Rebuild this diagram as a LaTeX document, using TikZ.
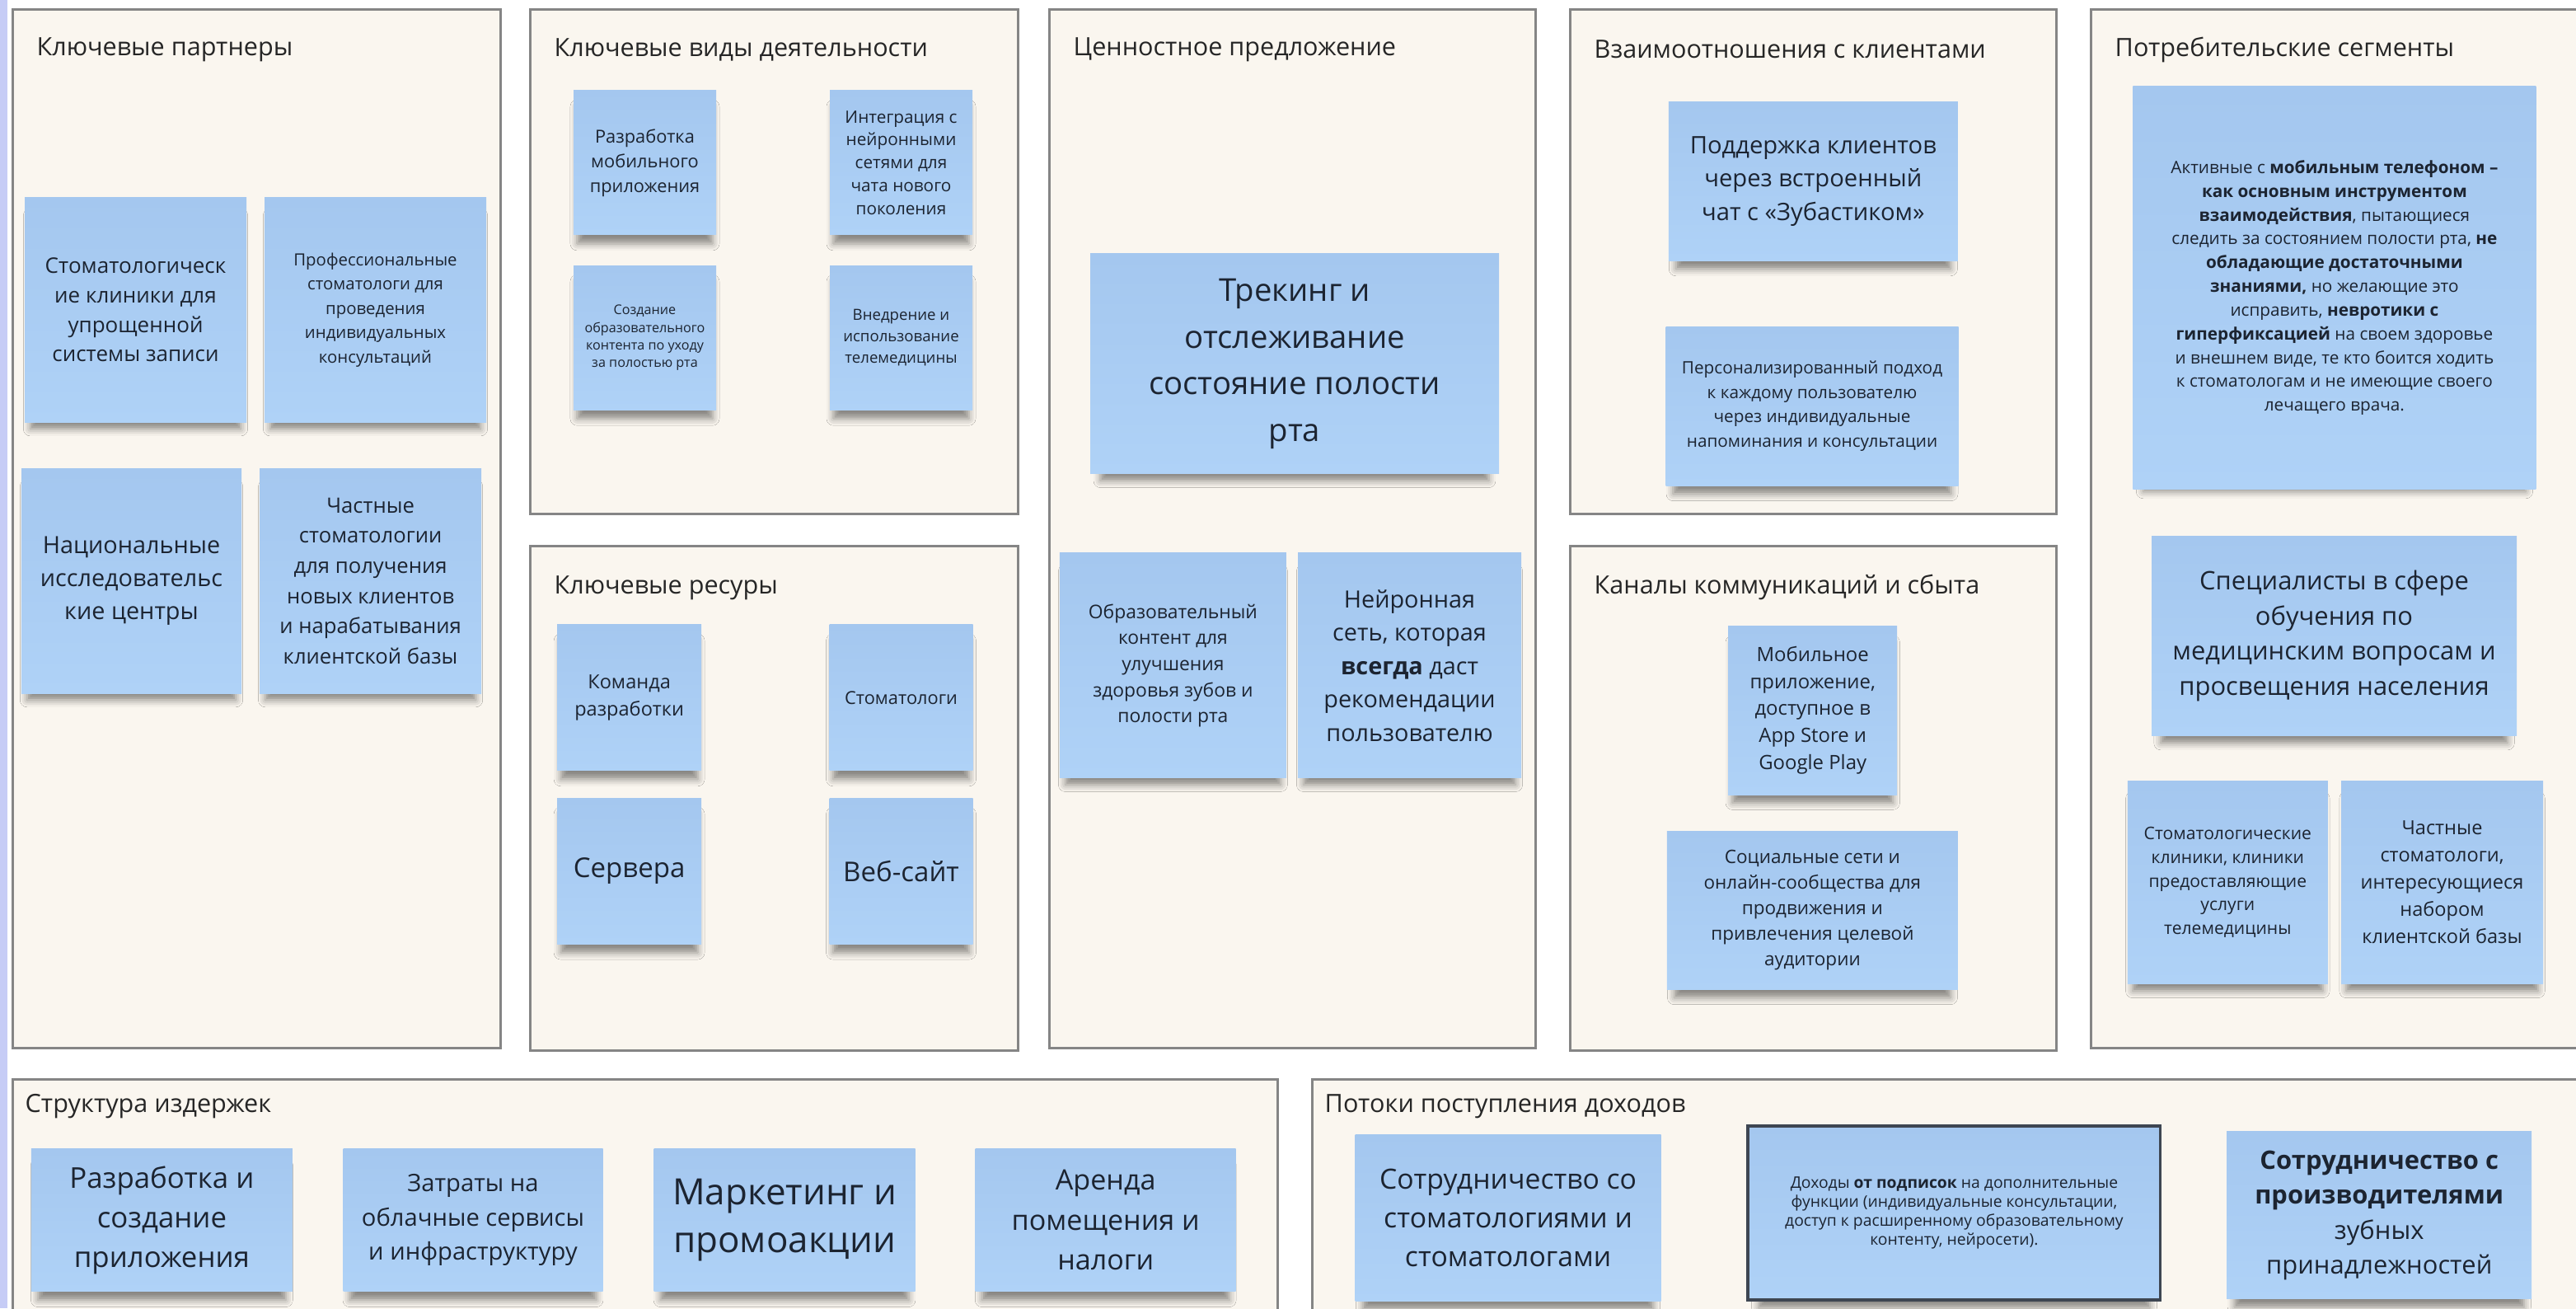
\documentclass[tikz,border=0pt]{standalone}
\usepackage{fontspec}
\setmainfont{Open Sans}
\usetikzlibrary{positioning, shadows.blur}

\definecolor{canvasbg}{HTML}{FAF6EF}
\definecolor{canvasline}{HTML}{858585}
\definecolor{stickytop}{HTML}{A4C7EF}
\definecolor{stickybot}{HTML}{AFD2F7}
\definecolor{inkcol}{HTML}{1C2431}
\definecolor{framecol}{HTML}{3E4652}
\definecolor{edgebar}{HTML}{C6CCF6}

\newcommand{\fsz}[2]{\fontsize{#1}{#2}\selectfont}

\begin{document}
\begin{tikzpicture}[
  panel/.style={
    draw=canvasline,
    line width=0.8pt,
    fill=canvasbg,
    anchor=north west,
    inner sep=0pt
    },
  ptitle/.style={
    anchor=west,
    inner sep=0pt,
    text=black!85,
    font=\fsz{8.7}{10}
    },
  sticky/.style n args={2}{
    top color=stickytop,
    bottom color=stickybot,
    align=center,
    inner sep=1pt,
    text=inkcol,
    minimum width=#1,
    minimum height=#2,
    blur shadow={shadow xshift=0pt, shadow yshift=-4.5pt, shadow scale=0.95, shadow blur radius=2.5pt, shadow opacity=45}
    }
]

\useasboundingbox (0,0) rectangle (31.26,-15.87);
\clip (0,0) rectangle (31.26,-15.87);
\fill[edgebar] (0,0) rectangle (0.09,-15.87);

\node[panel, minimum width=5.92cm, minimum height=12.6cm] (kp) at (0.14,-0.10) {};
\node[panel, minimum width=5.92cm, minimum height=6.12cm] (kd) at (6.42,-0.10) {};
\node[panel, minimum width=5.92cm, minimum height=6.12cm, below=0.36cm of kd.south west, anchor=north west] (kr) {};
\node[panel, minimum width=5.90cm, minimum height=12.6cm] (cp) at (12.72,-0.10) {};
\node[panel, minimum width=5.90cm, minimum height=6.12cm] (vk) at (19.04,-0.10) {};
\node[panel, minimum width=5.90cm, minimum height=6.12cm, below=0.36cm of vk.south west, anchor=north west] (ks) {};
\node[panel, minimum width=6.2cm, minimum height=12.6cm] (ps) at (25.36,-0.10) {};
\node[panel, minimum width=15.35cm, minimum height=3cm] (si) at (0.14,-13.08) {};
\node[panel, minimum width=16cm, minimum height=3cm] (pd) at (15.91,-13.08) {};

\node[ptitle, below right=0.5cm and 0.3cm of kp.north west, anchor=west] (kp-t) {Ключевые партнеры};
\node[ptitle, below right=0.5cm and 0.3cm of kd.north west, anchor=west] (kd-t) {Ключевые виды деятельности};
\node[ptitle, below right=0.52cm and 0.3cm of kr.north west, anchor=west] (kr-t) {Ключевые ресуры};
\node[ptitle, below right=0.5cm and 0.3cm of cp.north west, anchor=west] (cp-t) {Ценностное предложение};
\node[ptitle, below right=0.5cm and 0.3cm of vk.north west, anchor=west] (vk-t) {Взаимоотношения с клиентами};
\node[ptitle, below right=0.52cm and 0.3cm of ks.north west, anchor=west] (ks-t) {Каналы коммуникаций и сбыта};
\node[ptitle, below right=0.5cm and 0.3cm of ps.north west, anchor=west] (ps-t) {Потребительские сегменты};
\node[ptitle, below right=0.34cm and 0.16cm of si.north west, anchor=west] (si-t) {Структура издержек};
\node[ptitle, below right=0.34cm and 0.16cm of pd.north west, anchor=west] (pd-t) {Потоки поступления доходов};

\node[sticky={2.69cm}{2.73cm}, font=\fsz{7.4}{10.2}] (kp1) at (1.645,-3.758)
  {Стоматологическ\\ие клиники для\\упрощенной\\системы записи};
\node[sticky={2.69cm}{2.73cm}, font=\fsz{5.8}{8.4}] (kp2) at (4.555,-3.758)
  {Профессиональные\\стоматологи для\\проведения\\индивидуальных\\консультаций};
\node[sticky={2.67cm}{2.73cm}, font=\fsz{8.2}{11.5}] (kp3) at (1.595,-7.047)
  {Национальные\\исследовательс\\кие центры};
\node[sticky={2.69cm}{2.73cm}, font=\fsz{7.3}{10.4}] (kp4) at (4.496,-7.047)
  {Частные\\стоматологии\\для получения\\новых клиентов\\и нарабатывания\\клиентской базы};

\node[sticky={1.73cm}{1.75cm}, font=\fsz{6.2}{8.5}] (kd1) at (7.825,-1.974)
  {Разработка\\мобильного\\приложения};
\node[sticky={1.73cm}{1.75cm}, font=\fsz{5.9}{7.9}] (kd2) at (10.935,-1.974)
  {Интеграция с\\нейронными\\сетями для\\чата нового\\поколения};
\node[sticky={1.73cm}{1.75cm}, font=\fsz{4.6}{6.0}] (kd3) at (7.825,-4.097)
  {Создание\\образовательного\\контента по уходу\\за полостью рта};
\node[sticky={1.73cm}{1.75cm}, font=\fsz{5.3}{7.5}] (kd4) at (10.935,-4.097)
  {Внедрение и\\использование\\телемедицины};

\node[sticky={1.75cm}{1.77cm}, font=\fsz{6.7}{9.5}] (kr1) at (7.636,-8.463)
  {Команда\\разработки};
\node[sticky={1.74cm}{1.77cm}, font=\fsz{6.2}{8.5}] (kr2) at (10.935,-8.463)
  {Стоматологи};
\node[sticky={1.75cm}{1.77cm}, font=\fsz{9.4}{12.6}] (kr3) at (7.636,-10.566)
  {Сервера};
\node[sticky={1.74cm}{1.77cm}, font=\fsz{9.4}{12.6}] (kr4) at (10.935,-10.566)
  {Веб-сайт};

\node[sticky={4.96cm}{2.67cm}, font=\fsz{10.9}{16.1}] (cp1) at (15.710,-4.414)
  {Трекинг и\\отслеживание\\состояние полости\\рта};
\node[sticky={2.75cm}{2.73cm}, font=\fsz{6.5}{9.0}] (cp2) at (14.234,-8.074)
  {Образовательный\\контент для\\улучшения\\здоровья зубов и\\полости рта};
\node[sticky={2.71cm}{2.73cm}, font=\fsz{8.2}{11.5}] (cp3) at (17.105,-8.074)
  {Нейронная\\сеть, которая\\\textbf{всегда} даст\\рекомендации\\пользователю};

\node[sticky={3.51cm}{1.93cm}, font=\fsz{8.3}{11.5}] (vk1) at (22.003,-2.197)
  {Поддержка клиентов\\через встроенный\\чат с «Зубастиком»};
\node[sticky={3.55cm}{1.93cm}, font=\fsz{5.9}{8.5}] (vk2) at (21.990,-4.926)
  {Персонализированный подход\\к каждому пользователю\\через индивидуальные\\напоминания и консультации};

\node[sticky={2.05cm}{2.05cm}, font=\fsz{6.8}{9.3}] (ks1) at (21.997,-8.616)
  {Мобильное\\приложение,\\доступное в\\App Store и\\Google Play};
\node[sticky={3.53cm}{1.92cm}, font=\fsz{6.4}{8.8}] (ks2) at (21.994,-11.041)
  {Социальные сети и\\онлайн-сообщества для\\продвижения и\\привлечения целевой\\аудитории};

\node[sticky={4.89cm}{4.89cm}, font=\fsz{5.9}{8.2}] (ps1) at (28.329,-3.491)
  {Активные с \textbf{мобильным телефоном –}\\
   \textbf{как основным инструментом}\\
   \textbf{взаимодействия}, пытающиеся\\
   следить за состоянием полости рта, \textbf{не}\\
   \textbf{обладающие достаточными}\\
   \textbf{знаниями,} но желающие это\\
   исправить, \textbf{невротики с}\\
   \textbf{гиперфиксацией} на своем здоровье\\
   и внешнем виде, те кто боится ходить\\
   к стоматологам и не имеющие своего\\
   лечащего врача.};
\node[sticky={4.43cm}{2.42cm}, font=\fsz{8.8}{12.1}] (ps2) at (28.325,-7.715)
  {Специалисты в сфере\\обучения по\\медицинским вопросам и\\просвещения населения};
\node[sticky={2.43cm}{2.46cm}, font=\fsz{6.0}{8.2}] (ps3) at (27.033,-10.704)
  {Стоматологические\\клиники, клиники\\предоставляющие\\услуги\\телемедицины};
\node[sticky={2.45cm}{2.46cm}, font=\fsz{6.7}{9.4}] (ps4) at (29.635,-10.704)
  {Частные\\стоматологи,\\интересующиеся\\набором\\клиентской базы};

\node[sticky={3.17cm}{1.73cm}, font=\fsz{9.9}{13.7}] (si1) at (1.964,-14.800)
  {Разработка и\\создание\\приложения};
\node[sticky={3.15cm}{1.73cm}, font=\fsz{8.3}{11.9}] (si2) at (5.740,-14.800)
  {Затраты на\\облачные сервисы\\и инфраструктуру};
\node[sticky={3.17cm}{1.73cm}, font=\fsz{12.5}{16.6}] (si3) at (9.520,-14.800)
  {Маркетинг и\\промоакции};
\node[sticky={3.16cm}{1.73cm}, font=\fsz{9.7}{13.7}] (si4) at (13.417,-14.800)
  {Аренда\\помещения и\\налоги};

\node[sticky={3.71cm}{2.02cm}, font=\fsz{9.6}{13.3}] (pd1) at (18.301,-14.773)
  {Сотрудничество со\\стоматологиями и\\стоматологами};
\node[sticky={5.0cm}{2.11cm}, draw=framecol, line width=1.1pt, font=\fsz{5.5}{6.6}] (pd2) at (23.714,-14.713)
  {Доходы \textbf{от подписок} на дополнительные\\функции (индивидуальные консультации,\\доступ к расширенному образовательному\\контенту, нейросети).};
\node[sticky={3.70cm}{2.03cm}, font=\fsz{8.8}{12.1}] (pd3) at (28.872,-14.743)
  {\textbf{Сотрудничество с}\\\textbf{производителями}\\зубных\\принадлежностей};

\end{tikzpicture}
\end{document}
